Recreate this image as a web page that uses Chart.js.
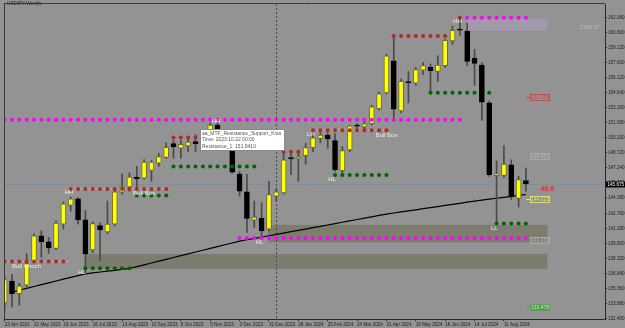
<!DOCTYPE html>
<html><head><meta charset="utf-8">
<script src="https://cdn.jsdelivr.net/npm/chart.js@4.4.1/dist/chart.umd.min.js"></script>
<style>html,body{margin:0;padding:0;background:#939393;overflow:hidden;width:625px;height:328px}canvas{display:block}</style>
</head><body><canvas id="c" width="625" height="328"></canvas>
<script>
// ---- data (weekly USDJPY, week index 0 = 23 Apr 2023) ----
const dateLabels = ['23 Apr 2023','21 May 2023','18 Jun 2023','16 Jul 2023','13 Aug 2023','10 Sep 2023','8 Oct 2023','5 Nov 2023','3 Dec 2023','31 Dec 2023','28 Jan 2024','25 Feb 2024','24 Mar 2024','21 Apr 2024','19 May 2024','16 Jun 2024','14 Jul 2024','11 Aug 2024'];
const xTickIdx = [0,4,8,12,16,20,24,28,32,36,40,44,48,52,56,60,64,68];
const yTickValues = [132.40,133.88,135.36,136.84,138.32,139.80,141.28,142.76,144.28,145.76,147.24,148.72,150.20,151.68,153.16,154.64,156.12,157.60,159.12,160.60,162.08];
const yTickLabels = ['132.400','133.880','135.360','136.840','138.320','139.800','141.280','142.760','144.280','145.760','147.240','148.720','150.200','151.680','153.160','154.640','156.120','157.600','159.120','160.600','162.080'];

const opens = [133.93,136.08,134.84,135.66,137.93,140.54,139.96,139.30,141.69,143.55,
  144.19,142.11,139.15,141.55,140.93,141.69,144.85,145.36,146.34,146.24,
  147.00,147.71,148.27,149.64,149.18,149.41,149.83,149.73,150.91,151.46,
  150.03,149.24,146.63,144.87,142.08,142.27,141.20,144.45,144.78,148.27,
  148.14,148.46,149.24,150.15,150.49,149.93,146.97,149.02,151.39,151.30,
  151.62,153.09,154.65,157.82,152.86,155.70,155.60,156.90,157.16,156.77,
  157.33,159.77,160.88,160.75,158.07,157.39,153.67,146.48,146.51,147.55,
  144.23,145.99];
const highs = [136.54,136.73,135.85,138.78,140.74,141.03,140.38,142.01,143.87,144.36,
  144.31,143.06,141.91,141.84,143.97,145.04,146.63,146.73,147.39,148.07,
  147.97,148.69,149.73,150.00,149.93,150.32,150.49,151.00,151.69,151.72,
  150.42,149.83,146.90,146.61,143.97,143.80,145.92,145.24,148.85,148.69,
  148.69,149.66,150.64,150.71,150.71,150.64,149.34,151.46,151.62,151.95,
  153.42,154.72,158.46,160.10,156.02,156.74,157.16,157.65,157.49,158.31,
  159.93,161.24,162.05,161.56,158.95,157.65,153.84,147.94,149.44,148.04,
  146.41,147.22];
const lows = [133.21,133.53,133.70,135.46,137.86,138.42,138.81,139.18,141.20,142.99,
  141.72,136.80,138.88,138.10,140.74,141.52,144.65,144.94,145.11,146.12,
  145.92,147.39,148.17,148.20,148.20,148.85,148.85,149.34,150.32,149.64,
  149.05,146.70,144.45,140.87,141.36,140.54,141.03,143.97,144.65,146.58,
  145.92,147.61,148.85,149.73,149.18,146.90,146.58,148.85,151.13,151.10,
  151.49,152.96,154.52,151.95,152.67,153.67,155.40,156.45,154.72,155.77,
  157.16,159.44,160.32,157.33,155.37,151.95,146.41,141.69,146.31,144.13,
  143.38,144.94];
const closes = [136.21,134.84,135.59,137.78,140.54,139.96,139.34,141.79,143.70,144.19,
  142.11,138.75,141.75,141.13,141.69,144.87,145.36,146.34,146.18,147.81,
  147.81,148.36,149.27,149.31,149.57,149.80,149.64,150.91,151.46,150.03,
  149.24,146.83,144.94,142.27,142.40,141.03,144.62,144.87,148.04,148.14,
  148.34,149.24,150.22,150.49,150.10,147.06,148.95,151.40,151.36,151.59,
  153.28,154.55,158.31,153.03,155.79,155.66,156.94,157.33,156.84,157.39,
  159.83,160.81,160.84,157.75,157.55,153.74,146.58,146.67,147.61,144.39,
  146.09,145.675];
const ma = [null,134.99,135.17,135.36,135.54,135.72,135.90,136.08,136.26,136.44,
  136.61,136.78,136.88,136.97,137.05,137.14,137.23,137.32,137.50,137.68,
  137.86,138.04,138.22,138.40,138.58,138.76,138.94,139.12,139.30,139.48,
  139.66,139.83,140.01,140.15,140.28,140.42,140.55,140.68,140.81,140.95,
  141.08,141.21,141.35,141.48,141.61,141.75,141.88,142.01,142.15,142.28,
  142.41,142.55,142.68,142.79,142.90,143.00,143.11,143.22,143.32,143.43,
  143.54,143.64,143.75,143.86,143.97,144.06,144.16,144.25,144.34,144.43,
  144.53,144.62];

// level dots: [fromWeek, toWeek, price]
const magentaLevels = [[0,62,152.00],[63,71,162.05],[32,71,140.32]];
const redLevels = [[0,8,138.00],[9,22,145.17],[23,37,150.25],[38,40,148.85],[42,52,150.97],[53,60,160.26],[62,62,162.05]];
const greenLevels = [[11,17,137.35],[18,22,144.52],[23,34,147.39],[45,52,146.54],[58,64,154.65],[66,66,154.65],[67,71,141.75]];
const bosLines = [[0,8.7,138.00],[8.7,22.3,145.17],[41.7,52.1,150.97]];

const zones = [
  {from:62.9, to:73.93, low:160.81, high:161.98, kind:'supply'},
  {from:35.85, to:73.93, low:139.90, high:141.62, kind:'demand'},
  {from:10.95, to:73.93, low:137.29, high:138.75, kind:'demand'}
];
const structLabels = [
  {text:'Bull Choch', x:1.0, price:137.54, left:true},
  {text:'HH', x:8.75, price:144.84},
  {text:'HL', x:10.5, price:136.97},
  {text:'Bull Bos', x:17.5, price:144.78, left:true},
  {text:'HH', x:28.8, price:151.88},
  {text:'HL', x:34.7, price:139.89},
  {text:'LH', x:41.7, price:150.56},
  {text:'HL', x:44.6, price:146.15},
  {text:'Bull Bos', x:50.5, price:150.49, left:true},
  {text:'HH', x:61.7, price:161.66},
  {text:'LL', x:66.7, price:141.30}
];
const priceTags = [
  {text:'154.256', price:154.256, kind:'red'},
  {text:'148.352', price:148.41, kind:'gray'},
  {text:'144.213', price:144.213, kind:'yellow'},
  {text:'140.063', price:140.10, kind:'gray'},
  {text:'133.478', price:133.55, kind:'green'}
];
const textNotes = [
  {text:'49.6', x:73.9, price:145.11, kind:'rsi'},
  {text:'5760.37', x:79.7, price:161.07, kind:'faint'}
];
const currentPrice = 145.675;
const separatorWeek = 37;
const tipAnchor = {x:26.56, price:151.13};
const tipLines = ['aa_MTF_Resistance_Support_Kisa','Time: 2023.10.22 00:00','Resistance_1: 151.9410'];
const chartTitle = 'USDJPY,Weekly';

// ---- build ----
const idx = opens.map((_, i) => i);
const bull = idx.map(i => closes[i] > opens[i]);
function levelPoints(levels) {
  const pts = [];
  levels.forEach(([a, b, p]) => { for (let i = a; i <= b; i++) pts.push({x:i, y:p}); });
  return pts;
}
const bosPts = [];
bosLines.forEach(([a, b, p]) => { bosPts.push({x:a, y:p}, {x:b, y:p}, {x:b + 0.001, y:null}); });

const FONT = '"Liberation Sans", Arial, sans-serif';
const zoneColors = {supply:'#a29aab', demand:'#7c7c6f'};
const tagStyles = {
  red:{stroke:'#e04040', text:'#e04040', line:'#e04040'},
  gray:{stroke:'#a9a9a9', text:'#b8b8b8'},
  yellow:{stroke:'#e2e24e', text:'#e2e24e', line:'#e2e24e'},
  green:{stroke:'#5aa55a', fill:'#4f9a4f', text:'#c4efc4', line:'#5aa55a'}
};
const tagColumn = 71.59;

const overlay = {
  id:'overlay',
  beforeDatasetsDraw(chart) {
    const {ctx, chartArea:a, scales:{x, y}} = chart;
    ctx.save();
    ctx.beginPath(); ctx.rect(a.left, a.top, a.right - a.left, a.bottom - a.top); ctx.clip();
    zones.forEach(z => {
      const x0 = x.getPixelForValue(z.from), x1 = x.getPixelForValue(z.to);
      const y0 = y.getPixelForValue(z.high), y1 = y.getPixelForValue(z.low);
      ctx.fillStyle = zoneColors[z.kind];
      ctx.fillRect(x0, y0, x1 - x0, y1 - y0);
    });
    const py = Math.round(y.getPixelForValue(currentPrice)) + 0.5;
    ctx.strokeStyle = '#7f8fa0'; ctx.lineWidth = 1;
    ctx.beginPath(); ctx.moveTo(a.left, py); ctx.lineTo(a.right, py); ctx.stroke();
    const sx = Math.round(x.getPixelForValue(separatorWeek)) + 0.5;
    ctx.strokeStyle = '#4a4a4a'; ctx.setLineDash([2, 2]);
    ctx.beginPath(); ctx.moveTo(sx, a.top); ctx.lineTo(sx, a.bottom); ctx.stroke();
    ctx.restore();
  },
  afterDatasetsDraw(chart) {
    const {ctx, chartArea:a, scales:{x, y}} = chart;
    ctx.save();
    ctx.beginPath(); ctx.rect(a.left, a.top, a.right - a.left, a.bottom - a.top); ctx.clip();
    ctx.textBaseline = 'middle';
    ctx.font = '6px ' + FONT; ctx.fillStyle = '#ececec';
    structLabels.forEach(l => {
      ctx.textAlign = l.left ? 'left' : 'center';
      ctx.fillText(l.text, x.getPixelForValue(l.x), y.getPixelForValue(l.price));
    });
    // price tags
    const bx = Math.round(x.getPixelForValue(tagColumn));
    priceTags.forEach(t => {
      const st = tagStyles[t.kind];
      const by = Math.round(y.getPixelForValue(t.price));
      if (st.line) { ctx.strokeStyle = st.line; ctx.lineWidth = 1; ctx.beginPath(); ctx.moveTo(bx - 4, by + 0.5); ctx.lineTo(bx, by + 0.5); ctx.stroke(); }
      if (st.fill) { ctx.fillStyle = st.fill; ctx.fillRect(bx, by - 3, 20, 7); }
      ctx.strokeStyle = st.stroke; ctx.lineWidth = 1; ctx.strokeRect(bx + 0.5, by - 2.5, 19, 6);
      ctx.fillStyle = st.text; ctx.font = '5px ' + FONT; ctx.textAlign = 'center';
      ctx.fillText(t.text, bx + 10, by + 0.7);
    });
    textNotes.forEach(n => {
      ctx.textAlign = 'center';
      if (n.kind === 'rsi') { ctx.font = 'bold 7px ' + FONT; ctx.fillStyle = '#ff2323'; }
      else { ctx.font = '5.5px ' + FONT; ctx.fillStyle = '#bdbdbd'; }
      ctx.fillText(n.text, x.getPixelForValue(n.x), y.getPixelForValue(n.price));
    });
    // tooltip
    const tx = Math.round(x.getPixelForValue(tipAnchor.x)), ty = Math.round(y.getPixelForValue(tipAnchor.price));
    ctx.fillStyle = '#ffffff'; ctx.fillRect(tx, ty, 85, 22);
    ctx.strokeStyle = '#8a8a8a'; ctx.lineWidth = 1; ctx.strokeRect(tx + 0.5, ty + 0.5, 84, 21);
    ctx.fillStyle = '#555555'; ctx.font = '5px ' + FONT; ctx.textAlign = 'left';
    tipLines.forEach((t, k) => ctx.fillText(t, tx + 2, ty + 4.2 + k * 6.7));
    ctx.restore();
  },
  afterDraw(chart) {
    const {ctx, chartArea:a, scales:{y}} = chart;
    ctx.save();
    ctx.strokeStyle = '#3a3a3a'; ctx.lineWidth = 1;
    ctx.beginPath(); ctx.moveTo(a.left + 0.5, a.top); ctx.lineTo(a.left + 0.5, a.bottom); ctx.stroke();
    ctx.beginPath(); ctx.moveTo(a.left, a.top - 0.5); ctx.lineTo(a.right, a.top - 0.5); ctx.stroke();
    // title
    ctx.fillStyle = '#2a2a2a';
    ctx.beginPath(); ctx.moveTo(3.5, 3.2); ctx.lineTo(6, 3.2); ctx.lineTo(4.75, 4.8); ctx.closePath(); ctx.fill();
    ctx.font = '4.7px ' + FONT; ctx.textAlign = 'left'; ctx.textBaseline = 'middle';
    ctx.fillText(chartTitle, 7, 4.2);
    // current price box on axis
    const py = Math.round(y.getPixelForValue(currentPrice));
    ctx.fillStyle = '#000'; ctx.fillRect(a.right + 1, py - 2.5, 24, 6);
    ctx.fillStyle = '#fff'; ctx.font = '4.6px ' + FONT;
    ctx.fillText(currentPrice.toFixed(3), a.right + 2.5, py + 0.6);
    ctx.restore();
  }
};

new Chart(document.getElementById('c'), {
  type:'bar',
  data:{datasets:[
    {type:'line', label:'MA', data: idx.filter(i => ma[i] != null).map(i => ({x:i, y:ma[i]})), borderColor:'#000', borderWidth:1.2, pointRadius:0, tension:0, order:5},
    {type:'bar', label:'wick', data: idx.map(i => ({x:i, y:[lows[i], highs[i]]})), backgroundColor:'#4a4a4a', barThickness:1, grouped:false, order:4},
    {type:'bar', label:'body', data: idx.map(i => ({x:i, y:[opens[i], closes[i]]})),
      backgroundColor: idx.map(i => bull[i] ? '#ffff00' : '#000000'),
      borderColor: idx.map(i => bull[i] ? '#6b6b45' : '#000000'),
      borderWidth:1, borderSkipped:false, barThickness:5, minBarLength:1, grouped:false, order:3},
    {type:'line', label:'bos', data: bosPts, borderColor:'rgba(235,235,235,0.85)', borderWidth:1, borderDash:[1,2], pointRadius:0, spanGaps:false, order:2},
    {type:'line', label:'magenta', data: levelPoints(magentaLevels), showLine:false, pointRadius:2, pointBorderWidth:0, pointBackgroundColor:'#ff00ff', order:1},
    {type:'line', label:'red', data: levelPoints(redLevels), showLine:false, pointRadius:2, pointBorderWidth:0, pointBackgroundColor:'#b22a22', order:1},
    {type:'line', label:'green', data: levelPoints(greenLevels), showLine:false, pointRadius:2, pointBorderWidth:0, pointBackgroundColor:'#006400', order:1}
  ]},
  options:{
    responsive:false, animation:false, devicePixelRatio:1, events:[],
    layout:{padding:{left:2, top:1, right:0, bottom:0}},
    plugins:{legend:{display:false}, tooltip:{enabled:false}},
    scales:{
      x:{type:'linear', min:-0.0855, max:81.77, offset:false,
        afterBuildTicks: s => { s.ticks = xTickIdx.map(v => ({value:v})); },
        afterFit: s => { s.height = 9; s.paddingLeft = 0; s.paddingRight = 0; },
        grid:{drawOnChartArea:false, drawTicks:true, tickLength:2, color:'#2a2a2a', offset:false},
        border:{display:true, color:'#2a2a2a', width:1},
        ticks:{autoSkip:false, maxRotation:0, minRotation:0, align:'start', padding:0.5, color:'#1c1c1c',
          font:{family:FONT, size:4.6}, callback:(v, i) => dateLabels[i]}},
      y:{type:'linear', position:'right', min:132.332, max:163.419,
        afterBuildTicks: s => { s.ticks = yTickValues.map(v => ({value:v})); },
        afterFit: s => { s.width = 20; s.paddingTop = 0; s.paddingBottom = 0; },
        grid:{drawOnChartArea:false, tickLength:2, color:'#2a2a2a'},
        border:{display:true, color:'#2a2a2a', width:1},
        ticks:{autoSkip:false, padding:1, color:'#1c1c1c', font:{family:FONT, size:4.6}, callback:(v, i) => yTickLabels[i]}}
    }
  },
  plugins:[overlay]
});
</script></body></html>
